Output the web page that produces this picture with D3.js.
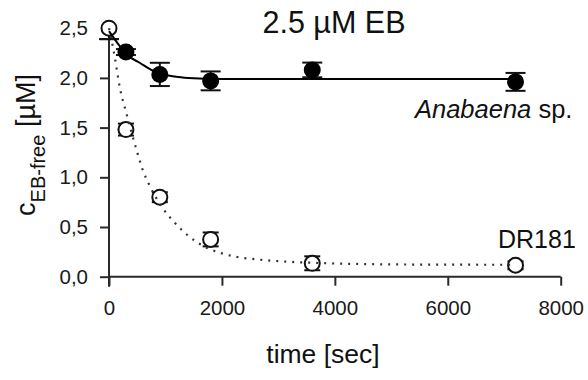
<!DOCTYPE html>
<html>
<head>
<meta charset="utf-8">
<script src="https://cdn.jsdelivr.net/npm/d3@7"></script>
<style>
  body { margin: 0; background: white; }
  svg { font-family: "Liberation Sans", Arial, sans-serif; }
</style>
</head>
<body>
<div id="viz_area"></div>
<script>
var width = 588
var height = 380

// measured points (time in sec, concentration in µM, error)
var anaTime = [0, 300, 900, 1800, 3600, 7200]
var anaConc = [2.5, 2.26, 2.035, 1.97, 2.08, 1.96]
var anaErr = [0.11, 0.03, 0.117, 0.095, 0.074, 0.09]

var drTime = [0, 300, 900, 1800, 3600, 7200]
var drConc = [2.5, 1.48, 0.8, 0.375, 0.135, 0.115]
var drErr = [0.0, 0.06, 0.05, 0.07, 0.07, 0.04]

// fitted curves
var anaFitTime = [0, 150, 300, 550, 750, 900, 1100, 1400, 2000, 3000, 7200]
var anaFitConc = [2.47, 2.35, 2.24, 2.15, 2.08, 2.04, 2.02, 2.0, 1.99, 1.99, 1.99]

var drFitTime = [0, 80, 200, 300, 460, 600, 700, 950, 1170, 1430, 1700, 2000, 2300, 2600, 3200, 3600, 4500, 5500, 7200]
var drFitConc = [2.5, 2.28, 1.88, 1.66, 1.33, 1.07, 0.94, 0.69, 0.54, 0.40, 0.30, 0.235, 0.195, 0.175, 0.15, 0.14, 0.127, 0.122, 0.12]

var xTicks = [0, 2000, 4000, 6000, 8000]
var yTicks = [0, 0.5, 1.0, 1.5, 2.0]
var yTickLabels = ["0,0", "0,5", "1,0", "1,5", "2,0", "2,5"]
var yAxisTop = 2.39

var svg = d3.select("#viz_area")
  .append("svg")
  .attr("width", width)
  .attr("height", height)
  .style("background-color", "white");

var scX = d3.scaleLinear()
  .domain([0, 8000])
  .range([109, 560.7])

var scY = d3.scaleLinear()
  .domain([0, 2.5])
  .range([276.7, 28.2])

var axisColor = "#2a2a2a"

// x axis with minor ticks
var gx = svg.append("g")
  .attr("transform", `translate(0,${scY(0)})`)
gx.call(d3.axisBottom(scX).tickValues(d3.range(0, 8001, 400)).tickSize(5).tickFormat(""))
gx.call(d3.axisBottom(scX).tickValues(xTicks).tickSize(9).tickPadding(15).tickFormat(d3.format("d")))
gx.selectAll("path").remove()
gx.append("line")
  .attr("x1", scX(0)).attr("x2", scX(8000))
  .attr("stroke", axisColor).attr("stroke-width", 2)
gx.selectAll("line").attr("stroke", axisColor).attr("stroke-width", 2)
gx.selectAll("text").style("font-size", "20.5px").attr("fill", "#1a1a1a")

// y axis
var gy = svg.append("g")
  .attr("transform", `translate(${scX(0)},0)`)
gy.call(d3.axisLeft(scY).tickValues(yTicks).tickSize(9).tickPadding(12)
  .tickFormat((d, i) => yTickLabels[i]))
gy.select(".domain").remove()
gy.append("line")
  .attr("y1", scY(0) + 10).attr("y2", scY(yAxisTop))
gy.append("line")
  .attr("x1", -9).attr("x2", 9)
  .attr("y1", scY(yAxisTop)).attr("y2", scY(yAxisTop))
gy.selectAll("line").attr("stroke", axisColor).attr("stroke-width", 2)
gy.append("text")
  .attr("x", -21).attr("y", scY(2.5)).attr("dy", "0.32em")
  .attr("text-anchor", "end")
  .text(yTickLabels[5])
gy.selectAll("text").style("font-size", "20.5px").attr("fill", "#1a1a1a")

// error bars
function drawErrors(times, conc, err, cap) {
  var g = svg.append("g").attr("stroke", "#111").attr("stroke-width", 2)
  times.forEach(function (t, i) {
    if (err[i] <= 0) return
    var hi = Math.min(conc[i] + err[i], 2.5)
    g.append("line")
      .attr("x1", scX(t)).attr("x2", scX(t))
      .attr("y1", scY(conc[i] - err[i])).attr("y2", scY(hi))
    g.append("line")
      .attr("x1", scX(t) - cap).attr("x2", scX(t) + cap)
      .attr("y1", scY(conc[i] - err[i])).attr("y2", scY(conc[i] - err[i]))
    if (conc[i] + err[i] <= 2.5) {
      g.append("line")
        .attr("x1", scX(t) - cap).attr("x2", scX(t) + cap)
        .attr("y1", scY(conc[i] + err[i])).attr("y2", scY(conc[i] + err[i]))
    }
  })
}
drawErrors(anaTime, anaConc, anaErr, 10)
drawErrors(drTime, drConc, drErr, 8)

// markers
svg.append("g")
  .selectAll("circle")
  .data(anaTime.map((t, i) => ({ t: t, c: anaConc[i] })).filter(d => d.t > 0))
  .enter()
  .append("circle")
  .attr("cx", d => scX(d.t))
  .attr("cy", d => scY(d.c))
  .attr("r", 8.5)
  .attr("fill", "black")

svg.append("g")
  .selectAll("circle")
  .data(drTime.map((t, i) => ({ t: t, c: drConc[i] })))
  .enter()
  .append("circle")
  .attr("cx", d => scX(d.t))
  .attr("cy", d => scY(d.c))
  .attr("r", 7.5)
  .attr("fill", "white")
  .attr("stroke", "#111")
  .attr("stroke-width", 2)

// fit lines
var makeLine = d3.line()
  .curve(d3.curveMonotoneX)
  .x(d => scX(d[0]))
  .y(d => scY(d[1]))

svg.append("path")
  .attr("fill", "none")
  .attr("stroke", "#333")
  .attr("stroke-width", 2.2)
  .attr("stroke-dasharray", "2 6")
  .attr("d", makeLine(drFitTime.map((t, i) => [t, drFitConc[i]])))

svg.append("path")
  .attr("fill", "none")
  .attr("stroke", "black")
  .attr("stroke-width", 2)
  .attr("d", makeLine(anaFitTime.map((t, i) => [t, anaFitConc[i]])))

// texts
svg.append("text")
  .attr("x", 334).attr("y", 33)
  .attr("text-anchor", "middle")
  .style("font-size", "30.5px")
  .attr("fill", "#111")
  .text("2.5 µM EB")

svg.append("text")
  .attr("x", 415).attr("y", 118)
  .style("font-size", "25.5px")
  .attr("fill", "#111")
  .call(t => t.append("tspan").style("font-style", "italic").text("Anabaena"))
  .call(t => t.append("tspan").text(" sp."))

svg.append("text")
  .attr("x", 498).attr("y", 248)
  .style("font-size", "25px")
  .attr("fill", "#111")
  .text("DR181")

svg.append("text")
  .attr("x", 323).attr("y", 363)
  .attr("text-anchor", "middle")
  .style("font-size", "26.5px")
  .attr("fill", "#111")
  .text("time [sec]")

svg.append("text")
  .attr("transform", "translate(35,145) rotate(-90)")
  .attr("text-anchor", "middle")
  .attr("fill", "#111")
  .style("font-size", "27px")
  .call(t => t.append("tspan").text("c"))
  .call(t => t.append("tspan").attr("dy", 10).style("font-size", "20px").text("EB-free"))
  .call(t => t.append("tspan").attr("dy", -10).text(" [µM]"))
</script>
</body>
</html>
